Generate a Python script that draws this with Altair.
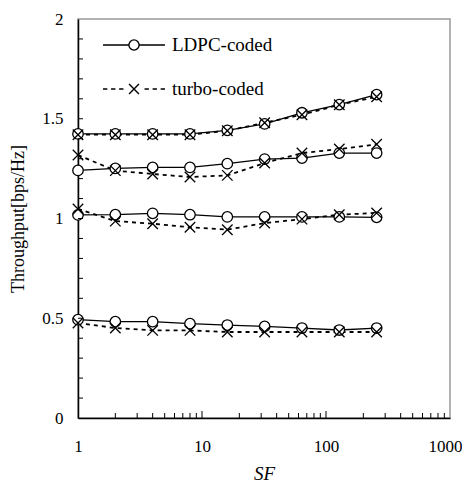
import altair as alt
import pandas as pd

SF = [1, 2, 4, 8, 16, 32, 64, 128, 256]
ldpc_a = [1.424, 1.424, 1.424, 1.424, 1.442, 1.474, 1.530, 1.571, 1.621]
turbo_a = [1.420, 1.420, 1.420, 1.420, 1.440, 1.480, 1.520, 1.570, 1.610]
ldpc_b = [1.241, 1.251, 1.256, 1.256, 1.275, 1.298, 1.303, 1.328, 1.328]
turbo_b = [1.318, 1.240, 1.223, 1.208, 1.216, 1.278, 1.328, 1.348, 1.372]
ldpc_c = [1.018, 1.019, 1.026, 1.019, 1.008, 1.008, 1.008, 1.008, 1.006]
turbo_c = [1.048, 0.987, 0.974, 0.956, 0.944, 0.977, 0.997, 1.019, 1.028]
ldpc_d = [0.493, 0.483, 0.483, 0.473, 0.466, 0.459, 0.451, 0.441, 0.451]
turbo_d = [0.476, 0.451, 0.439, 0.439, 0.431, 0.431, 0.431, 0.431, 0.431]

codes = ["LDPC-coded", "turbo-coded"]
x_labels = [1, 10, 100, 1000]
x_major_ticks = [10, 100]
x_minor_ticks = [2, 3, 4, 5, 6, 7, 8, 9, 20, 30, 40, 50, 60, 70, 80, 90,
                 200, 300, 400, 500, 600, 700, 800, 900]
y_labels = [0, 0.5, 1, 1.5, 2]
y_minor_ticks = [round(i * 0.1, 1) for i in range(1, 20)]

rows = []
for g, (l, t) in zip("abcd", [(ldpc_a, turbo_a), (ldpc_b, turbo_b),
                               (ldpc_c, turbo_c), (ldpc_d, turbo_d)]):
    for s, lv, tv in zip(SF, l, t):
        rows.append({"SF": s, "value": lv, "code": codes[0], "grp": g})
        rows.append({"SF": s, "value": tv, "code": codes[1], "grp": g})
df = pd.DataFrame(rows)
legend_df = pd.DataFrame({"code": codes})
xmin_df = pd.DataFrame({"t": x_minor_ticks})
xmaj_df = pd.DataFrame({"t": x_major_ticks})
ymin_df = pd.DataFrame({"t": y_minor_ticks})

FONT = "Liberation Serif"
W, H = 372, 399

xs = alt.Scale(type="log", domain=[1, 1000])
ys = alt.Scale(domain=[0, 2])

CROSS = "M-1,-1L1,1M-1,1L1,-1"
LEG_LDPC = ("M-1,0L-0.165,0M0.165,0L1,0"
            "M-0.165,0A0.165,0.165,0,1,1,0.165,0A0.165,0.165,0,1,1,-0.165,0Z")
LEG_TURBO = ("M-1,0L-0.86,0M-0.74,0L-0.6,0M-0.48,0L-0.34,0"
             "M0.34,0L0.48,0M0.6,0L0.74,0M0.86,0L1,0"
             "M-0.16,-0.16L0.16,0.16M-0.16,0.16L0.16,-0.16")

x_axis = alt.Axis(
    orient="bottom", values=x_labels, format="d", ticks=False,
    grid=False, domainColor="black", domainWidth=1.5,
    labelFont=FONT, labelFontSize=17, labelColor="black", labelPadding=20,
    labelFlush=False,
    labelOffset={"condition": {"test": "datum.value == 1000", "value": -5}, "value": 0},
    title="SF", titleFont=FONT, titleFontSize=19, titleFontStyle="italic",
    titleFontWeight="normal", titleColor="black", titlePadding=10)
y_axis = alt.Axis(
    orient="left", values=y_labels, format=".1~f", ticks=False,
    grid=False, domainColor="black", domainWidth=1.5,
    labelFont=FONT, labelFontSize=17, labelColor="black", labelPadding=15,
    labelFlush=False,
    title="Throughput[bps/Hz]", titleFont=FONT, titleFontSize=18,
    titleFontWeight="normal", titleColor="black", titlePadding=14)

turbo_lines = alt.Chart(df).transform_filter(
    alt.datum.code == codes[1]
).mark_line(color="black", strokeWidth=1.8, strokeDash=[4, 4]).encode(
    x=alt.X("SF:Q", scale=xs, axis=x_axis),
    y=alt.Y("value:Q", scale=ys, axis=y_axis),
    detail="grp:N",
)
ldpc_lines = alt.Chart(df).transform_filter(
    alt.datum.code == codes[0]
).mark_line(color="black", strokeWidth=1.3).encode(
    x=alt.X("SF:Q", scale=xs, axis=None),
    y=alt.Y("value:Q", scale=ys, axis=None),
    detail="grp:N",
)
circles = alt.Chart(df).transform_filter(
    alt.datum.code == codes[0]
).mark_point(shape="circle", size=110, filled=True, fill="white",
             stroke="black", strokeWidth=1.3, opacity=1).encode(
    x=alt.X("SF:Q", scale=xs, axis=None),
    y=alt.Y("value:Q", scale=ys, axis=None),
)
crosses = alt.Chart(df).transform_filter(
    alt.datum.code == codes[1]
).mark_point(shape=CROSS, size=110, filled=False, stroke="black",
             strokeWidth=1.3, opacity=1).encode(
    x=alt.X("SF:Q", scale=xs, axis=None),
    y=alt.Y("value:Q", scale=ys, axis=None),
)

# inward axis ticks
x_minor = alt.Chart(xmin_df).mark_tick(
    orient="vertical", size=5, thickness=1, color="black", opacity=1,
    yOffset=-2.5
).encode(x=alt.X("t:Q", scale=xs, axis=None), y=alt.Y(datum=0, scale=ys, axis=None))
x_major = alt.Chart(xmaj_df).mark_tick(
    orient="vertical", size=7, thickness=1, color="black", opacity=1,
    yOffset=-3.5
).encode(x=alt.X("t:Q", scale=xs, axis=None), y=alt.Y(datum=0, scale=ys, axis=None))
y_minor = alt.Chart(ymin_df).mark_tick(
    orient="horizontal", size=5, thickness=1, color="black", opacity=1,
    xOffset=2.5
).encode(y=alt.Y("t:Q", scale=ys, axis=None), x=alt.X(datum=1, scale=xs, axis=None))

legend_layer = alt.Chart(legend_df).mark_point(opacity=0, color="black").encode(
    shape=alt.Shape("code:N",
                    scale=alt.Scale(domain=codes, range=[LEG_LDPC, LEG_TURBO]),
                    legend=alt.Legend(orient="none", legendX=24, legendY=-6,
                                      title=None, padding=0,
                                      symbolSize=3844, symbolStrokeWidth=1.4,
                                      symbolStrokeColor="black",
                                      symbolFillColor="transparent",
                                      symbolOpacity=1,
                                      labelFont=FONT, labelFontSize=19,
                                      labelColor="black", labelOffset=6,
                                      rowPadding=2)),
)

chart = alt.layer(turbo_lines, ldpc_lines, circles, crosses,
                  x_minor, x_major, y_minor, legend_layer).resolve_axis(
    x="independent", y="independent"
).properties(
    width=W, height=H,
    autosize=alt.AutoSizeParams(type="none"),
    padding={"left": 70, "top": 11, "right": 12, "bottom": 65},
).configure_view(stroke="#999999", strokeWidth=1.5)

chart.save("out.html", embed_options={"renderer": "svg", "actions": False})
